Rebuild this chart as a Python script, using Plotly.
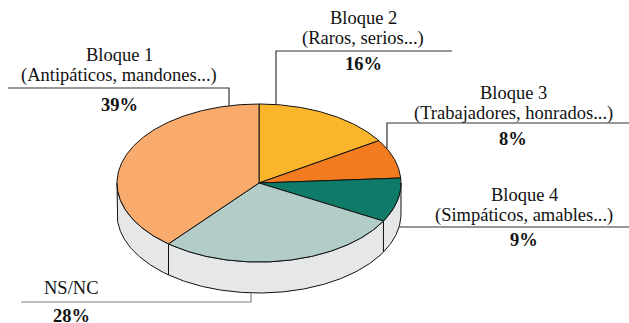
import numpy as np
import plotly.graph_objects as go

# Survey shares, clockwise from 12 o'clock
categories = ["Bloque 2", "Bloque 3", "Bloque 4", "NS/NC", "Bloque 1"]
subtitles = ["(Raros, serios...)", "(Trabajadores, honrados...)",
             "(Simpáticos, amables...)", "", "(Antipáticos, mandones...)"]
values = [16, 8, 9, 28, 39]
colors = ["#FBB52A", "#F47C20", "#0F7A68", "#B2CDC7", "#F9AB6E"]
SIDE = "#E6E7E8"

# Pie geometry (pixel-like units on the plot axes)
CX, CY, RX, RY, DEPTH = 259.0, 183.0, 142.0, 79.0, 31.0
W, H = 629, 323
FONT = "Liberation Serif, Times New Roman, serif"
FSIZE = 18.5


def pt(theta_deg, dy=0.0):
    t = np.radians(theta_deg)
    return CX + RX * np.sin(t), CY - RY * np.cos(t) + dy


def arc(a, b, dy=0.0, n=None):
    n = n or max(4, int(abs(b - a) * 1.5))
    th = np.linspace(a, b, n)
    x, y = pt(th, dy)
    return list(x), list(y)


fig = go.Figure()

total = sum(values)
bounds = np.concatenate([[0], np.cumsum(values)]) / total * 360.0

# Side wall: only the front half (90..270 degrees) is visible
for i, c in enumerate(categories):
    a, b = max(bounds[i], 90.0), min(bounds[i + 1], 270.0)
    if b <= a:
        continue
    xt, yt = arc(a, b)
    xb, yb = arc(b, a, DEPTH)
    fig.add_trace(go.Scatter(
        x=xt + xb + [xt[0]], y=yt + yb + [yt[0]], mode="lines",
        fill="toself", fillcolor=SIDE, line=dict(color="#111", width=1),
        hoverinfo="skip", showlegend=False))

# Top face slices
for i, c in enumerate(categories):
    xa, ya = arc(bounds[i], bounds[i + 1])
    fig.add_trace(go.Scatter(
        x=[CX] + xa + [CX], y=[CY] + ya + [CY], mode="lines",
        fill="toself", fillcolor=colors[i], line=dict(color="#111", width=1),
        hoverinfo="skip", showlegend=False))


def top_edge_y(x):
    u = (x - CX) / RX
    return CY - RY * np.sqrt(max(0.0, 1 - u * u))


def bottom_edge_y(x):
    u = (x - CX) / RX
    return CY + DEPTH + RY * np.sqrt(max(0.0, 1 - u * u))


def leader(xs, ys, color="#333"):
    fig.add_trace(go.Scatter(x=xs, y=ys, mode="lines",
                             line=dict(color=color, width=1.2),
                             hoverinfo="skip", showlegend=False))


# Leader lines
leader([8, 229, 229], [88, 88, top_edge_y(229)])            # Bloque 1
leader([452, 276, 276], [51, 51, top_edge_y(276)])          # Bloque 2
leader([629, 387, 387], [123, 123, top_edge_y(387)])        # Bloque 3
uy = 227.0
ux = CX + RX * np.sqrt(1 - ((uy - CY - DEPTH) / RY) ** 2)
leader([ux, 629], [uy, uy])                                 # Bloque 4
leader([21, 251, 251], [302, 302, bottom_edge_y(251)], "#808080")  # NS/NC

# Label placements: (x, title y, subtitle y, percent y)
label_pos = {
    "Bloque 1": (119, 55.3, 75.8, 105),
    "Bloque 2": (363, 17.8, 38.3, 64),
    "Bloque 3": (513, 93.2, 113.7, 139),
    "Bloque 4": (524, 195.3, 215.8, 240),
    "NS/NC": (71, 287.5, None, 315.5),
}

for c, sub, v in zip(categories, subtitles, values):
    lx, ty, sy, py = label_pos[c]
    fig.add_annotation(x=lx, y=ty, text=c, showarrow=False,
                       xanchor="center", yanchor="middle", borderpad=0,
                       font=dict(family=FONT, size=FSIZE, color="#111"))
    if sub:
        fig.add_annotation(x=lx, y=sy, text=sub, showarrow=False,
                           xanchor="center", yanchor="middle", borderpad=0,
                           font=dict(family=FONT, size=FSIZE, color="#111"))
    fig.add_annotation(x=lx, y=py, text=f"<b>{v}%</b>", showarrow=False,
                       xanchor="center", yanchor="middle", borderpad=0,
                       font=dict(family=FONT, size=FSIZE, color="#111"))

fig.update_layout(
    width=W, height=H, margin=dict(l=0, r=0, t=0, b=0),
    paper_bgcolor="white", plot_bgcolor="white",
    xaxis=dict(range=[0, W], visible=False, fixedrange=True),
    yaxis=dict(range=[H, 0], visible=False, fixedrange=True),
)

fig.write_html("out.html")
